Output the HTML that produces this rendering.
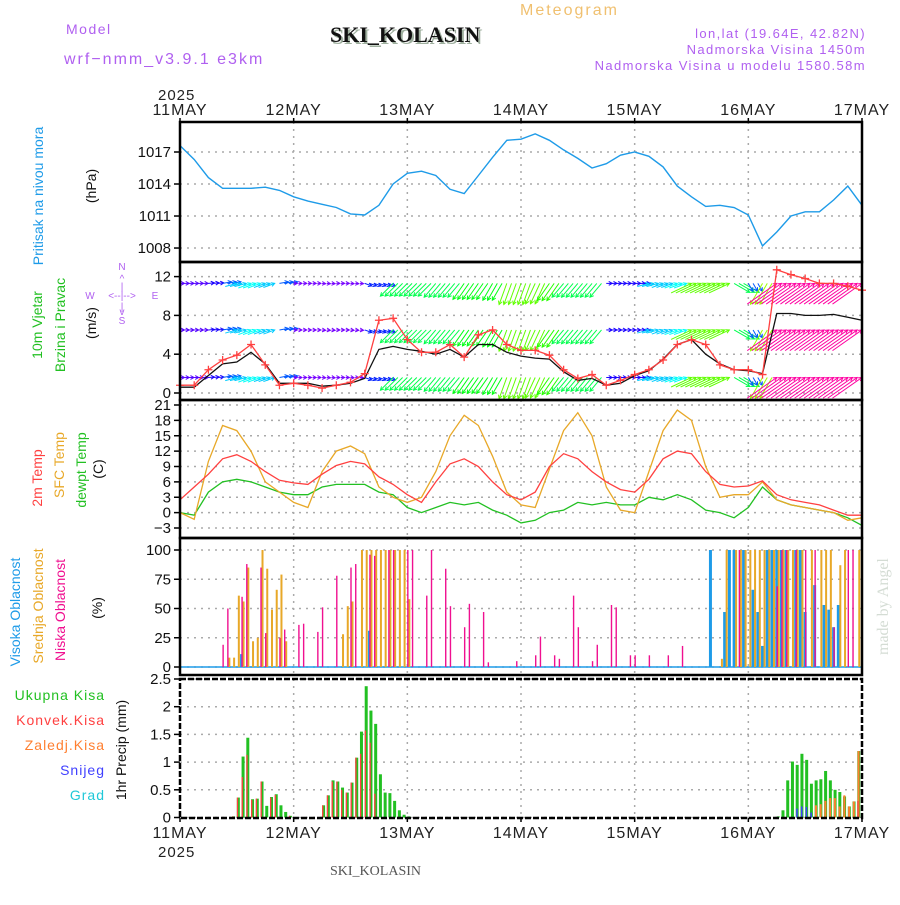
<!DOCTYPE html>
<html><head><meta charset="utf-8"><style>
html,body{margin:0;padding:0;background:#fff}
svg text{font-family:"Liberation Sans",sans-serif}
</style></head><body>
<svg id="chart" xmlns="http://www.w3.org/2000/svg" width="900" height="900" viewBox="0 0 900 900">
<rect width="900" height="900" fill="#fff"/>
<g>
<text x="66" y="34" font-size="14" fill="#b060f0" letter-spacing="1.5">Model</text>
<text x="64" y="64" font-size="16" fill="#b060f0" letter-spacing="2">wrf−nmm_v3.9.1 e3km</text>
<text x="332" y="44" font-size="22" font-weight="bold" fill="#9fb09f" style="font-family:'Liberation Serif',serif">SKI_KOLASIN</text>
<text x="330" y="42" font-size="22" font-weight="bold" fill="#111" style="font-family:'Liberation Serif',serif">SKI_KOLASIN</text>
<text x="520" y="15" font-size="16" fill="#f0c070" letter-spacing="2">Meteogram</text>
<text x="866" y="38" font-size="13" fill="#b060f0" text-anchor="end" letter-spacing="1.4">lon,lat (19.64E, 42.82N)</text>
<text x="866" y="54" font-size="13" fill="#b060f0" text-anchor="end" letter-spacing="1.4">Nadmorska Visina 1450m</text>
<text x="866" y="70" font-size="13" fill="#b060f0" text-anchor="end" letter-spacing="1.4">Nadmorska Visina u modelu 1580.58m</text>
<text x="158" y="100" font-size="15" fill="#222" letter-spacing="1">2025</text>
<text x="158" y="857" font-size="15" fill="#222" letter-spacing="1">2025</text>
<text x="330" y="875" font-size="14" fill="#555" style="font-family:'Liberation Serif',serif">SKI_KOLASIN</text>
<text transform="translate(888,655) rotate(-90)" font-size="16" fill="#d4dcd4" style="font-family:'Liberation Serif',serif">made by Angel</text>
</g>
<g font-size="14">
<text transform="translate(43,196) rotate(-90)" text-anchor="middle" fill="#1e9be8">Pritisak na nivou mora</text>
<text transform="translate(96,186) rotate(-90)" text-anchor="middle" fill="#111">(hPa)</text>
<text transform="translate(42,325) rotate(-90)" text-anchor="middle" fill="#22c022">10m Vjetar</text>
<text transform="translate(65,325) rotate(-90)" text-anchor="middle" fill="#22c022">Brzina i Pravac</text>
<text transform="translate(96,323) rotate(-90)" text-anchor="middle" fill="#111">(m/s)</text>
<g fill="#b060f0" font-size="10" text-anchor="middle">
<text x="122" y="270">N</text><text x="122" y="282">^</text><text x="122" y="290">|</text>
<text x="90" y="299">W</text><text x="122" y="299">&lt;--|--&gt;</text><text x="155" y="299">E</text>
<text x="122" y="310">|</text><text x="122" y="315">v</text><text x="122" y="324">S</text>
</g>
<text transform="translate(42,478) rotate(-90)" text-anchor="middle" fill="#ff4040">2m Temp</text>
<text transform="translate(64,465) rotate(-90)" text-anchor="middle" fill="#e8a828">SFC Temp</text>
<text transform="translate(86,470) rotate(-90)" text-anchor="middle" fill="#22c022">dewpt Temp</text>
<text transform="translate(103,469) rotate(-90)" text-anchor="middle" fill="#111">(C)</text>
<text transform="translate(20,612) rotate(-90)" text-anchor="middle" fill="#1e9be8">Visoka Oblacnost</text>
<text transform="translate(43,606) rotate(-90)" text-anchor="middle" fill="#e8a828">Srednja Oblacnost</text>
<text transform="translate(65,610) rotate(-90)" text-anchor="middle" fill="#f01090">Niska Oblacnost</text>
<text transform="translate(102,608) rotate(-90)" text-anchor="middle" fill="#111">(%)</text>
<text x="105" y="700" text-anchor="end" fill="#22c022" letter-spacing="1">Ukupna Kisa</text>
<text x="105" y="725" text-anchor="end" fill="#ff4040" letter-spacing="1">Konvek.Kisa</text>
<text x="105" y="750" text-anchor="end" fill="#ff7f30" letter-spacing="1">Zaledj.Kisa</text>
<text x="105" y="775" text-anchor="end" fill="#4040ff" letter-spacing="1">Snijeg</text>
<text x="105" y="800" text-anchor="end" fill="#20c8d8" letter-spacing="1">Grad</text>
<text transform="translate(126,750) rotate(-90)" text-anchor="middle" fill="#111">1hr Precip (mm)</text>
</g>
<g id="grid"></g>
<g id="marks"></g>
<g id="frames"></g>
<g id="axes"></g>
</svg>
<script>
const days = ["11MAY","12MAY","13MAY","14MAY","15MAY","16MAY","17MAY"];
const pressure = [1017.6,1016.3,1014.6,1013.6,1013.6,1013.6,1013.7,1013.4,1012.8,1012.4,1012.1,1011.8,1011.2,1011.1,1012.0,1014.0,1015.0,1015.2,1014.8,1013.5,1013.1,1014.8,1016.5,1018.1,1018.2,1018.7,1018.1,1017.2,1016.4,1015.5,1015.9,1016.7,1017.0,1016.6,1015.6,1013.8,1012.8,1011.9,1012.0,1011.8,1011.1,1008.2,1009.5,1011.0,1011.4,1011.4,1012.5,1013.8,1012.0];
const pressTicks = [1017,1014,1011,1008];
const windSpeed = [0.8,0.8,2.4,3.4,3.9,5.0,2.9,0.8,1.0,0.8,0.5,0.8,1.1,2.0,7.5,7.7,5.5,4.2,4.2,5.0,3.7,6.0,6.5,5.0,4.4,4.4,3.9,2.4,1.5,1.9,0.8,1.3,1.9,2.4,3.4,5.0,5.5,5.0,2.9,2.4,2.4,1.9,12.7,12.2,11.8,11.3,11.3,11.0,10.6];
const windMean = [0.6,0.6,1.8,3.0,3.2,4.2,3.0,1.0,1.0,1.0,0.7,0.8,1.0,1.5,4.5,4.8,4.5,4.3,4.0,4.5,3.7,5.0,5.0,4.2,3.8,3.6,3.5,2.2,1.3,1.5,0.8,1.0,1.8,2.3,3.5,5.0,5.5,4.0,3.0,2.4,2.3,2.0,8.2,8.2,8.0,8.0,8.1,7.8,7.5];
const arrowSpeed = [1.5,1.5,2,3,4,4.5,4,3,1.2,1.2,1.2,1.2,1.2,2.5,2.5,6,6,6,6,6,6.5,6.5,6.5,7.5,7.5,7.5,7,6,6,6,2,2,2,4,4,4.5,7.5,7.5,7.5,6,3,8,12,12,12,12,12,12,12];
const arrowDir = [0,0,5,10,15,20,20,10,0,0,-5,0,-5,-20,-20,225,225,225,230,230,235,235,240,250,250,245,235,230,230,230,0,0,0,15,20,20,25,25,25,-30,-60,240,35,35,35,35,35,35,35];
const arrowRows = [11.3,6.5,1.6];
const windTicks = [12,8,4,0];
const temp2m = [2.5,5.0,7.5,10.5,11.3,10,8,6.3,5.8,5.5,7.5,9.2,10,9.5,7,5.5,3.5,2,6,9.5,10.5,9,6,3.5,2.5,4,9,11.5,10.5,8,6,4.5,4,6.5,10.5,12,11.5,8,5.5,5,5.2,6.2,3.5,2.5,2,1.5,0.5,-0.5,-0.5];
const tempSfc = [0,-1.3,10,17,16,12,6,4,2,1,8,12,13,11.5,5,3,2,3,8,15,19,17,11,4,1.5,1,8.5,16,19.5,15,5,0.5,0,8,16,20,18,9,3,3.5,3.5,6,2.5,1.5,1,0.5,0,-1.5,-1];
const dewpt = [0,-0.5,4,6,6.5,6,5,4,3.5,3.5,5,5.5,5.5,5.5,4,3.5,1,0,1,2,1.5,2,0.5,-0.5,-2,-1.5,0,0.5,2,1.5,2,1.5,1.5,3,2.5,3.5,2.5,0.5,0,-1,1,5,2.5,1.5,1,0.5,0,-1,-2.5];
const tempTicks = [21,18,15,12,9,6,3,0,-3];
const cloudLow = [[9,19],[10,50],[13,60],[14,88],[17,85],[18,29],[21,25],[22,32],[25,36],[26,37],[29,30],[30,51],[33,78],[36,85],[37,88],[40,96],[41,95],[44,100],[45,100],[48,100],[49,100],[52,61],[53,100],[56,84],[57,52],[60,34],[61,54],[64,47],[65,4],[71,5],[75,10],[76,26],[79,10],[80,7],[83,61],[84,34],[87,5],[88,19],[91,53],[92,51],[95,10],[96,10],[99,10],[103,10],[106,18],[118,100],[126,69],[127,100],[128,100],[130,100],[132,100],[134,100],[138,34],[141,100],[142,100]];
const cloudMid = [[10,8],[11,8],[12,61],[13,56],[14,85],[15,22],[16,25],[17,100],[18,84],[19,49],[20,66],[21,79],[22,22],[34,28],[35,52],[36,56],[38,100],[39,100],[40,100],[41,100],[42,100],[43,100],[44,100],[45,100],[46,100],[47,100],[48,58],[114,7],[115,100],[117,100],[118,100],[119,100],[120,100],[121,100],[122,100],[123,100],[124,100],[125,100],[126,100],[127,100],[128,100],[129,100],[130,100],[131,100],[133,100],[135,100],[136,100],[137,100],[139,87],[140,100],[143,100]];
const cloudHigh = [[13,11],[40,31],[112,100],[115,47],[116,100],[117,100],[119,100],[121,66],[122,47],[123,18],[124,100],[125,100],[126,100],[127,100],[128,100],[130,100],[131,100],[132,47],[134,70],[136,53],[137,49],[138,34],[139,53]];
const cloudTicks = [100,75,50,25,0];
const precipTotal = [[11,0.02],[12,0.36],[13,1.1],[14,1.44],[15,0.33],[16,0.34],[17,0.65],[18,0.21],[19,0.37],[20,0.42],[21,0.22],[22,0.1],[23,0.03],[30,0.22],[31,0.4],[32,0.67],[33,0.65],[34,0.54],[35,0.45],[36,0.63],[37,1.08],[38,1.55],[39,2.37],[40,1.93],[41,1.69],[42,0.78],[43,0.45],[44,0.44],[45,0.3],[46,0.13],[47,0.05],[48,0.02],[126,0.02],[127,0.13],[128,0.67],[129,1.01],[130,0.95],[131,1.15],[132,1.04],[133,0.61],[134,0.67],[135,0.69],[136,0.84],[137,0.67],[138,0.5],[139,0.46],[140,0.38],[141,0.2],[142,0.29],[143,1.2]];
const precipConv = [[11,0.02],[12,0.36],[13,0.73],[14,1.13],[15,0.32],[16,0.34],[17,0.65],[19,0.36],[20,0.41],[23,0.03],[30,0.22],[31,0.4],[32,0.65],[33,0.65],[34,0.5],[35,0.45],[36,0.63],[37,1.08],[38,1.15],[39,1.57],[40,1.35],[41,0.43],[143,0.3]];
const precipFrz = [[134,0.22],[135,0.24],[136,0.3],[137,0.35],[138,0.35],[139,0.2],[140,0.4],[141,0.2],[142,0.29],[143,1.2]];
const precipSnow = [[130,0.16],[131,0.2],[132,0.19],[133,0.09]];
const precipTicks = [2.5,2,1.5,1,0.5,0];

const NS='http://www.w3.org/2000/svg';
const X0=180,X1=862;
const x = h => X0 + h*(X1-X0)/144;
const yP = v => 152 + (1017-v)*10.67;
const yW = v => 393 - v*9.7;
const yT = v => 528 - (v+3)*5.125;
const yC = v => 667 - v*1.17;
const yR = v => 817.5 - v*55.4;
function el(parent,tag,attrs){const e=document.createElementNS(NS,tag);for(const k in attrs)e.setAttribute(k,attrs[k]);parent.appendChild(e);return e;}
const grid=document.getElementById('grid'),marks=document.getElementById('marks'),frames=document.getElementById('frames'),axes=document.getElementById('axes');
const panels=[[122,262,pressTicks,yP],[262,400,windTicks,yW],[400,538,tempTicks,yT],[538,675,cloudTicks,yC],[679,818,precipTicks,yR]];
panels.forEach((p,i)=>{
  for(let d=1;d<6;d++){const g=el(grid,'line',{x1:x(d*24),x2:x(d*24),y1:p[0],y2:p[1],stroke:'#aaa','stroke-width':1.5,'stroke-dasharray':'2,5'});
    
    }
  p[2].forEach(t=>{const yy=p[3](t);
    const g=el(grid,'line',{x1:X0,x2:X1,y1:yy,y2:yy,stroke:'#aaa','stroke-width':1.5,'stroke-dasharray':'2,5'});
    
    
    const tk=el(axes,'line',{x1:X0-6,x2:X0,y1:yy,y2:yy,stroke:'#000','stroke-width':1.5});
    
    
    const tx=el(axes,'text',{x:X0-9,y:yy+5,'font-size':15,'text-anchor':'end',fill:'#111'});tx.textContent=String(t).replace('-','−');
    
    
  });
  const f=el(frames,'rect',{x:X0,y:p[0],width:X1-X0,height:p[1]-p[0],fill:'none',stroke:'#000','stroke-width':2.5});
  if(i===4)f.setAttribute('stroke-dasharray','6,2');
  
  
});
days.forEach((d,i)=>{
  [[115,118,122],[838,818,822]].forEach(r=>{
    const t=el(axes,'text',{x:x(i*24),y:r[0],'font-size':16,'text-anchor':'middle',fill:'#222','letter-spacing':1});t.textContent=d;
    
    
    const tk=el(axes,'line',{x1:x(i*24),x2:x(i*24),y1:r[1],y2:r[2],stroke:'#000','stroke-width':1.5});
    
    
  });
});
function line(arr,yf,color,name,w){const pts=arr.map((v,k)=>x(k*3).toFixed(1)+','+yf(v).toFixed(1)).join(' ');
  const l=el(marks,'polyline',{points:pts,fill:'none',stroke:color,'stroke-width':w||1.3});
  
  return l;}
line(pressure,yP,'#1e9be8','pressure-line',1.4);
const ag=el(marks,'g',{});


arrowSpeed.forEach((s,k)=>{
  const hue=s>=10?322:Math.max(55,300-s*27),col='hsl('+hue+',100%,50%)';
  const a=arrowDir[k]*Math.PI/180,L=s*3,dx=L*Math.cos(a),dy=-L*Math.sin(a);
  for(let j=0;j<3;j++){const h=k*3+j; if(h>144)break;
    arrowRows.forEach(r=>{const xb=x(h),yb=yW(r);let x1,y1,x2,y2;
      if(dy<-3){x1=xb-dx;y1=yb-dy;x2=xb;y2=yb;}else{x1=xb;y1=yb;x2=xb+dx;y2=yb+dy;}
      const ln=el(ag,'line',{x1:x1,y1:y1,x2:x2,y2:y2,stroke:col,'stroke-width':1});
      
      
      const ang=Math.atan2(y2-y1,x2-x1),hl=4;
      const hd=el(ag,'polyline',{points:(x2-hl*Math.cos(ang-0.5))+','+(y2-hl*Math.sin(ang-0.5))+' '+x2+','+y2+' '+(x2-hl*Math.cos(ang+0.5))+','+(y2-hl*Math.sin(ang+0.5)),fill:'none',stroke:col,'stroke-width':1});
      
      
    });}
});
line(windMean,yW,'#111','wind-mean-line',1.3);
line(windSpeed,yW,'#ff4040','wind-speed-line',1.3);
windSpeed.forEach((v,k)=>{const cx=x(k*3),cy=yW(v);
  const m=el(marks,'path',{d:'M'+(cx-4)+','+cy+'h8M'+cx+','+(cy-4)+'v8',stroke:'#ff4040','stroke-width':1.3});
  
  });
line(dewpt,yT,'#22c022','dewpoint-line');
line(tempSfc,yT,'#e8a828','sfc-temp-line');
line(temp2m,yT,'#ff4040','temp-2m-line');
const bl=el(marks,'line',{x1:X0,x2:X1,y1:667,y2:667,stroke:'#1e9be8','stroke-width':1.5});


function bars(arr,yf,color,off,w,name,y0){arr.forEach(p=>{const yy=yf(p[1]);
  const r=el(marks,'rect',{x:x(p[0])+off,y:yy,width:w,height:Math.max(0,y0-yy),fill:color});
  
  });}
bars(cloudHigh,yC,'#1e9be8',-1.5,3,'cloud-high-bar',667);
bars(cloudMid,yC,'#e8a828',1,2,'cloud-mid-bar',667);
bars(cloudLow,yC,'#f01090',-0.2,1.4,'cloud-low-bar',667);
bars(precipTotal,yR,'#22c022',0,3,'precip-total-bar',817.5);
bars(precipFrz,yR,'#ff7f30',0.3,2,'precip-freezing-bar',817.5);
bars(precipConv,yR,'#ff4040',0,1.3,'precip-convective-bar',817.5);
bars(precipSnow,yR,'#4040ff',0.5,1.5,'precip-snow-bar',817.5);
</script>
</body></html>
